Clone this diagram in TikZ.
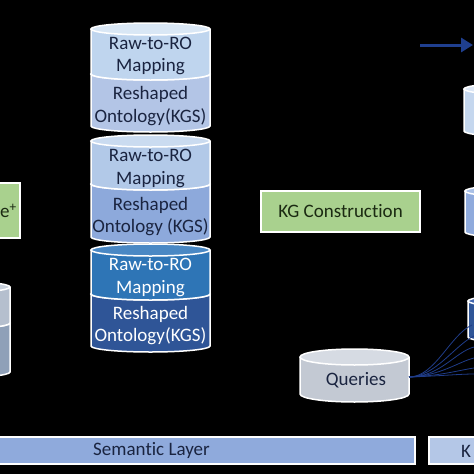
\documentclass[tikz,border=0pt]{standalone}
\usepackage{fontspec}
\setmainfont{Carlito}[Ligatures=NoCommon]
\usetikzlibrary{arrows.meta}
\definecolor{gAtop}{HTML}{D9E7F5}
\definecolor{gAup}{HTML}{BFD5EE}
\definecolor{gAlow}{HTML}{B3C5E6}
\definecolor{gBtop}{HTML}{CADBF0}
\definecolor{gBup}{HTML}{B2C9E8}
\definecolor{gBlow}{HTML}{8DA9DB}
\definecolor{gCtop}{HTML}{4A88C4}
\definecolor{gCup}{HTML}{2E75B6}
\definecolor{gClow}{HTML}{2F5597}
\definecolor{lTop}{HTML}{C8D0DB}
\definecolor{lUp}{HTML}{B5BFCE}
\definecolor{lLow}{HTML}{8FA0B8}
\definecolor{rAtop}{HTML}{DCE7F5}
\definecolor{rAbody}{HTML}{C5D7EE}
\definecolor{rBtop}{HTML}{A9C0E6}
\definecolor{rBbody}{HTML}{8FAADC}
\definecolor{rCtop}{HTML}{4468B0}
\definecolor{rCbody}{HTML}{2F5597}
\definecolor{qTop}{HTML}{D6DBE3}
\definecolor{qBody}{HTML}{C3C9D3}
\definecolor{greenfill}{HTML}{A9D18E}
\definecolor{darktext}{HTML}{1A2440}
\definecolor{greentext}{HTML}{1B2A12}
\definecolor{barA}{HTML}{8FAADC}
\definecolor{barB}{HTML}{B4C7E7}
\definecolor{arrowblue}{HTML}{1F3F8F}
\definecolor{qlineblue}{HTML}{1F3C88}
\tikzset{
  cylline/.style={draw=white, line width=1.5pt},
  cyltext/.style={font=\fontsize{19}{22.5}\selectfont, align=center, text=darktext, inner sep=0pt},
  cyltextw/.style={cyltext, text=white},
  greenbox/.style={draw=white, line width=1.5pt, fill=greenfill, text=greentext, font=\fontsize{19}{22.5}\selectfont},
  barbox/.style={draw=white, line width=1.5pt, text=darktext, font=\fontsize{19}{22.5}\selectfont},
  plaintext/.style={inner sep=0pt, font=\fontsize{19}{22.5}\selectfont},
  qline/.style={draw=qlineblue, line width=0.8pt},
}
\newcommand{\mycyl}[7]{%
  \fill[#6] (#1-#4,#2) -- (#1-#4,#3) arc[start angle=180,end angle=0,x radius=#4,y radius=#5] -- (#1+#4,#2) -- cycle;
  \fill[#7] (#1,#2) ellipse[x radius=#4,y radius=#5];
  \draw[cylline] (#1-#4,#2) -- (#1-#4,#3) arc[start angle=180,end angle=0,x radius=#4,y radius=#5] -- (#1+#4,#2);
  \draw[cylline] (#1,#2) ellipse[x radius=#4,y radius=#5];
}
\begin{document}
\begin{tikzpicture}[x=1pt,y=-1pt]
\useasboundingbox (0,0) rectangle (474,474);
\fill[black] (0,0) rectangle (474,474);
\clip (0,0) rectangle (474,474);

% central stacks
\mycyl{150.5}{74}{126}{59.5}{6}{gAlow}{gAlow}
\mycyl{150.5}{29}{74}{59.5}{6}{gAup}{gAtop}
\mycyl{150.5}{184}{237}{59.5}{6}{gBlow}{gBlow}
\mycyl{150.5}{141}{184}{59.5}{6}{gBup}{gBtop}
\mycyl{150.5}{294}{346}{59.5}{6}{gClow}{gClow}
\mycyl{150.5}{250}{294}{59.5}{6}{gCup}{gCtop}
\node[cyltext] (m1) at (150.5,56) {Raw-to-RO\\Mapping};
\node[cyltext] (o1) at (150.5,106) {Reshaped\\Ontology(KGS)};
\node[cyltext] (m2) at (150.5,168.5) {Raw-to-RO\\Mapping};
\node[cyltext] (o2) at (150.5,216.5) {Reshaped\\Ontology (KGS)};
\node[cyltextw] (m3) at (150.5,277.5) {Raw-to-RO\\Mapping};
\node[cyltextw] (o3) at (150.5,325.5) {Reshaped\\Ontology(KGS)};

% left cylinder
\mycyl{-50}{323}{372}{60}{6}{lLow}{lLow}
\mycyl{-50}{287}{323}{60}{6}{lUp}{lTop}

% left green box
\node[greenbox, minimum width=120pt, minimum height=55pt] (gb) at (-40,210.5) {};
\node[plaintext, text=greentext, anchor=east] (gbt) at (17,211) {e\textsuperscript{+}};

% KG construction
\node[greenbox, minimum width=159pt, minimum height=41pt] (kg) at (340.5,211.5) {KG Construction};

% right cylinders
\mycyl{524}{89}{131}{60}{6}{rAbody}{rAtop}
\mycyl{525}{191}{232}{60}{6}{rBbody}{rBtop}
\mycyl{528}{301}{337}{60}{6}{rCbody}{rCtop}

% queries
\mycyl{354.5}{357}{394}{54.5}{8}{qBody}{qTop}
\node[cyltext] (q) at (356,380) {Queries};
\coordinate (qe) at (409,377);
\coordinate (t1) at (472,325);
\coordinate (t2) at (474,336);
\coordinate (t3) at (474,347);
\coordinate (t4) at (474,358);
\coordinate (t5) at (474,368);
\coordinate (t6) at (474,374);
\draw[qline] (qe) .. controls (435,377) and (450,335) .. (t1);
\draw[qline] (qe) .. controls (435,377) and (455,345) .. (t2);
\draw[qline] (qe) .. controls (440,377) and (455,352) .. (t3);
\draw[qline] (qe) .. controls (440,376) and (458,362) .. (t4);
\draw[qline] (qe) .. controls (440,376) and (460,370) .. (t5);
\draw[qline] (qe) .. controls (440,376) and (460,374) .. (t6);

% top-right arrow
\coordinate (a1) at (420,45);
\coordinate (a2) at (473,45);
\draw[draw=arrowblue, line width=3pt, -{Triangle[length=12pt,width=14pt]}] (a1) -- (a2);

% bottom bars
\node[barbox, fill=barA, minimum width=527pt, minimum height=27pt] (sem) at (151.5,450.5) {Semantic Layer};
\node[barbox, fill=barB, minimum width=100pt, minimum height=27pt, anchor=west] (kl) at (428,450.5) {};
\node[plaintext, text=darktext, anchor=west] (klt) at (461,451) {K};
\end{tikzpicture}
\end{document}
